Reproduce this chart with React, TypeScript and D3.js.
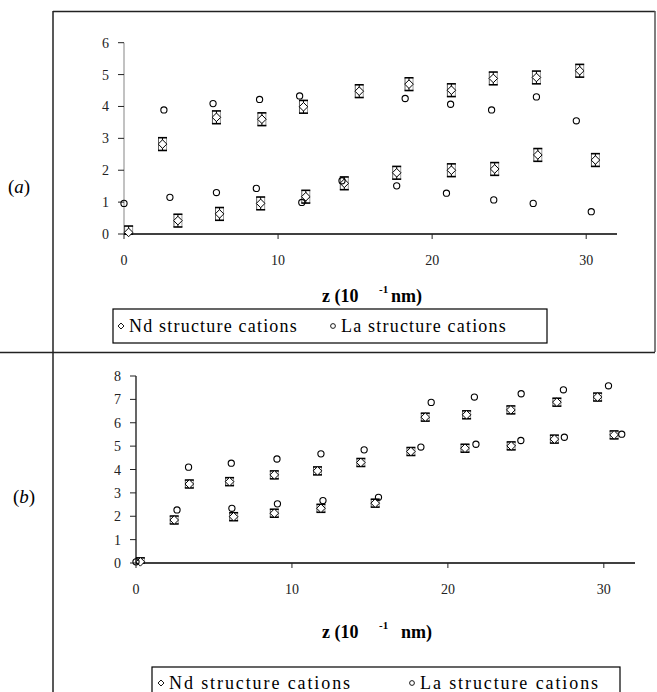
import React from "react";
import * as d3 from "d3";

// ---------- DATA ----------
// Panel (a)
const aNdZ = [0.3, 2.5, 3.5, 6.0, 6.2, 8.95, 8.87, 11.65, 11.8, 14.3, 15.27, 17.7, 18.5, 21.25, 21.25, 23.97, 24.06, 26.77, 26.86, 29.58, 30.6];
const aNdVal = [0.05, 2.82, 0.42, 3.66, 0.63, 3.6, 0.96, 3.99, 1.17, 1.59, 4.48, 1.92, 4.7, 4.51, 2.0, 4.88, 2.04, 4.91, 2.48, 5.12, 2.32];
const aLaZ = [0.0, 2.59, 2.98, 5.78, 6.0, 8.8, 8.59, 11.4, 11.54, 14.15, 17.7, 18.25, 20.93, 21.2, 23.86, 24.0, 26.56, 26.77, 29.36, 30.33];
const aLaVal = [0.96, 3.89, 1.15, 4.09, 1.3, 4.22, 1.43, 4.33, 0.99, 1.67, 1.51, 4.25, 1.28, 4.07, 3.89, 1.07, 0.96, 4.3, 3.55, 0.7];
const aErr = 0.2;
const aYTicks = [0, 1, 2, 3, 4, 5, 6];

// Panel (b)
const bNdZ = [0.28, 2.45, 3.42, 6.0, 6.26, 8.87, 8.87, 11.64, 11.86, 14.42, 15.34, 17.63, 18.55, 21.1, 21.2, 24.04, 24.06, 26.83, 26.99, 29.6, 30.66];
const bNdVal = [0.05, 1.84, 3.38, 3.48, 1.98, 3.77, 2.13, 3.94, 2.34, 4.3, 2.56, 4.77, 6.24, 4.91, 6.34, 6.55, 5.01, 5.3, 6.88, 7.1, 5.48];
const bLaZ = [0.0, 2.63, 3.37, 6.11, 6.15, 9.04, 9.07, 11.86, 11.99, 14.63, 15.55, 18.27, 18.93, 21.7, 21.8, 24.68, 24.7, 27.41, 27.47, 30.3, 31.15];
const bLaVal = [0.05, 2.27, 4.1, 4.27, 2.34, 4.45, 2.53, 4.67, 2.67, 4.84, 2.81, 4.96, 6.87, 7.1, 5.08, 5.24, 7.24, 7.41, 5.38, 7.58, 5.51];
const bErr = 0.17;
const bYTicks = [0, 1, 2, 3, 4, 5, 6, 7, 8];

const xTicks = [0, 10, 20, 30];
const legendLabels = ["Nd structure cations", "La structure cations"];
const panelLabels = ["a", "b"];

const FONT = "'Liberation Serif', 'DejaVu Serif', serif";

function NdMarker({ cx, cy, yTop, yBot }: { cx: number; cy: number; yTop: number; yBot: number }) {
  const h = 4.3;
  return (
    <g>
      <line x1={cx - 4} x2={cx - 4} y1={yTop} y2={yBot} stroke="#333" strokeWidth={0.8} />
      <line x1={cx + 4} x2={cx + 4} y1={yTop} y2={yBot} stroke="#555" strokeWidth={0.6} />
      <line x1={cx} x2={cx} y1={yTop} y2={yBot} stroke="#000" strokeWidth={1} />
      <line x1={cx - 4.5} x2={cx + 4.5} y1={yTop} y2={yTop} stroke="#000" strokeWidth={1.6} />
      <line x1={cx - 4.5} x2={cx + 4.5} y1={yBot} y2={yBot} stroke="#000" strokeWidth={1.6} />
      <path d={`M${cx},${cy - h}L${cx + h},${cy}L${cx},${cy + h}L${cx - h},${cy}Z`} fill="#fff" stroke="#000" strokeWidth={1} />
    </g>
  );
}

function Panel({
  ndZ, ndVal, laZ, laVal, err, yTicks, yMax, xRange, yRange, yAxisColor,
}: {
  ndZ: number[]; ndVal: number[]; laZ: number[]; laVal: number[]; err: number;
  yTicks: number[]; yMax: number; xRange: [number, number]; yRange: [number, number]; yAxisColor: string;
}) {
  const x = d3.scaleLinear().domain([0, 32]).range(xRange);
  const y = d3.scaleLinear().domain([0, yMax]).range(yRange);
  const [x0, x1] = xRange;
  const [y0, y1] = yRange;
  return (
    <g>
      <line x1={x0} x2={x0} y1={y1} y2={y0} stroke={yAxisColor} strokeWidth={1.2} />
      {yTicks.map((t) => (
        <g key={"yt" + t}>
          <line x1={x0 - 6} x2={x0} y1={y(t)} y2={y(t)} stroke="#222" strokeWidth={1} />
          <text x={x0 - 15} y={y(t) + 5} fontFamily={FONT} fontSize={14} textAnchor="end" fill="#222">{t}</text>
        </g>
      ))}
      <line x1={x0} x2={x1} y1={y0} y2={y0} stroke="#000" strokeWidth={1.3} />
      {xTicks.map((t) => (
        <g key={"xt" + t}>
          <line x1={x(t)} x2={x(t)} y1={y0} y2={y0 + 5} stroke="#222" strokeWidth={1} />
          <text x={x(t)} y={y0 + 31} fontFamily={FONT} fontSize={14} textAnchor="middle" fill="#222">{t}</text>
        </g>
      ))}
      {ndZ.map((z, i) => (
        <NdMarker key={"nd" + i} cx={x(z)} cy={y(ndVal[i])} yTop={y(ndVal[i] + err)} yBot={y(Math.max(0, ndVal[i] - err))} />
      ))}
      {laZ.map((z, i) => (
        <circle key={"la" + i} cx={x(z)} cy={y(laVal[i])} r={3.1} fill="none" stroke="#000" strokeWidth={1.1} />
      ))}
    </g>
  );
}

function Legend({ x, y, w, h, itemX, spacing }: { x: number; y: number; w: number; h: number; itemX: [number, number]; spacing: number }) {
  const cy = y + h / 2;
  return (
    <g>
      <rect x={x} y={y} width={w} height={h} fill="#fff" stroke="#000" strokeWidth={1.2} />
      <path d={`M${itemX[0]},${cy - 3}L${itemX[0] + 3},${cy}L${itemX[0]},${cy + 3}L${itemX[0] - 3},${cy}Z`} fill="none" stroke="#000" strokeWidth={0.9} />
      <text x={itemX[0] + 8} y={cy + 6} fontFamily={FONT} fontSize={18} letterSpacing={spacing} fill="#000">{legendLabels[0]}</text>
      <circle cx={itemX[1]} cy={cy} r={2.4} fill="none" stroke="#000" strokeWidth={0.9} />
      <text x={itemX[1] + 8} y={cy + 6} fontFamily={FONT} fontSize={18} letterSpacing={spacing} fill="#000">{legendLabels[1]}</text>
    </g>
  );
}

function AxisTitle({ x, y, gap }: { x: number; y: number; gap: number }) {
  return (
    <g fontFamily={FONT} fontWeight="bold" fill="#000">
      <text x={x} y={y} fontSize={18}>z (10</text>
      <text x={x + 57} y={y - 9} fontSize={11}>-1</text>
      <text x={x + 57 + gap} y={y} fontSize={18}>nm)</text>
    </g>
  );
}

export default function App() {
  return (
    <svg width={657} height={692} style={{ position: "absolute", left: 0, top: 0, background: "#fff" }}>
      <rect x={0} y={0} width={657} height={692} fill="#fff" />
      <line x1={53} x2={655} y1={11.5} y2={11.5} stroke="#222" strokeWidth={1.5} />
      <line x1={655} x2={655} y1={11} y2={352} stroke="#555" strokeWidth={1.5} />
      <line x1={53} x2={53} y1={11} y2={692} stroke="#222" strokeWidth={1.5} />
      <line x1={0} x2={655} y1={352.5} y2={352.5} stroke="#222" strokeWidth={1.5} />

      <text x={8} y={193} fontFamily={FONT} fontSize={19} fill="#000">(<tspan fontStyle="italic">{panelLabels[0]}</tspan>)</text>
      <text x={13} y={503} fontFamily={FONT} fontSize={19} fill="#000">(<tspan fontStyle="italic">{panelLabels[1]}</tspan>)</text>

      <Panel ndZ={aNdZ} ndVal={aNdVal} laZ={aLaZ} laVal={aLaVal} err={aErr} yTicks={aYTicks} yMax={6}
        xRange={[124, 617]} yRange={[234, 42.7]} yAxisColor="#999" />
      <AxisTitle x={322} y={302} gap={12} />
      <Legend x={113} y={309} w={434} h={34} itemX={[121, 333]} spacing={1.2} />

      <Panel ndZ={bNdZ} ndVal={bNdVal} laZ={bLaZ} laVal={bLaVal} err={bErr} yTicks={bYTicks} yMax={8}
        xRange={[136, 635]} yRange={[563, 376]} yAxisColor="#000" />
      <AxisTitle x={322} y={638} gap={22} />
      <Legend x={152} y={667} w={468} h={32} itemX={[161, 412]} spacing={1.9} />
    </svg>
  );
}
